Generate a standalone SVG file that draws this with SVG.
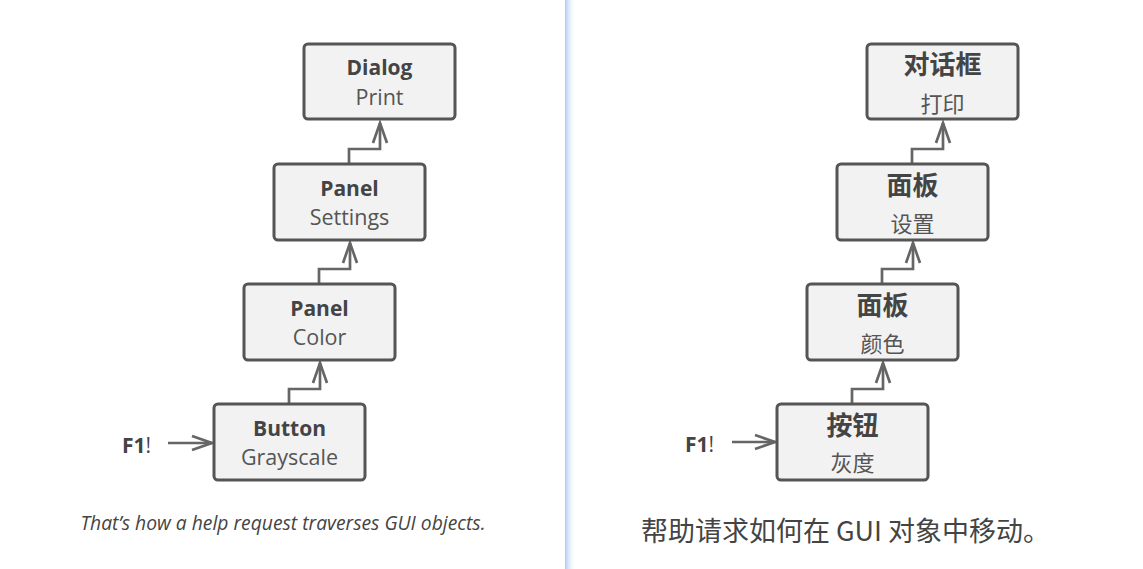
<svg xmlns="http://www.w3.org/2000/svg" width="1143" height="569" viewBox="0 0 1143 569">
<style>
.box{fill:#f2f2f2;stroke:#555;stroke-width:3}
.t{font-family:"Open Sans","Noto Sans",sans-serif;font-weight:bold;font-size:21px;fill:#444;text-anchor:middle}
.s{font-family:"Open Sans","Noto Sans",sans-serif;font-size:21.5px;fill:#555;text-anchor:middle}
.tc{font-family:"Noto Sans CJK SC",sans-serif;font-weight:bold;font-size:26px;fill:#444;text-anchor:middle}
.sc{font-family:"Noto Sans CJK SC",sans-serif;font-size:22px;fill:#555;text-anchor:middle}
.f1{font-family:"Open Sans","Noto Sans",sans-serif;font-size:21px;fill:#444}
.c{fill:none;stroke:#666;stroke-width:2.7;marker-end:url(#ah)}
</style>
<defs>
<marker id="ah" markerUnits="userSpaceOnUse" markerWidth="30" markerHeight="30" refX="0" refY="0" orient="auto" overflow="visible">
<polyline points="-20,-7 0,0 -20,7" fill="none" stroke="#666" stroke-width="2.7"/>
</marker>
<linearGradient id="div" x1="0" y1="0" x2="1" y2="0">
<stop offset="0" stop-color="#acccf4"/>
<stop offset="1" stop-color="#ffffff" stop-opacity="0"/>
</linearGradient>
</defs>
<rect width="1143" height="569" fill="#fff"/>
<rect x="565" y="0" width="11" height="569" fill="url(#div)"/>

<g id="connectors">
<path class="c" d="M289 404 V389 H320 V363"/>
<path class="c" d="M319 284 V269 H350 V243"/>
<path class="c" d="M349 164 V149 H380 V123"/>
<path class="c" d="M168 443 H212"/>
<path class="c" d="M852 404 V389 H883 V363"/>
<path class="c" d="M882 284 V269 H913 V243"/>
<path class="c" d="M912 164 V149 H943 V123"/>
<path class="c" d="M732 442 H775"/>
</g>

<g id="dialog">
<rect class="box" x="304" y="44" width="151" height="75" rx="4"/>
<text class="t" x="379.5" y="75">Dialog</text>
<text class="s" x="379.5" y="105">Print</text>
</g>
<g id="panel-settings">
<rect class="box" x="274" y="164" width="151" height="76" rx="4"/>
<text class="t" x="349.5" y="196">Panel</text>
<text class="s" x="349.5" y="225">Settings</text>
</g>
<g id="panel-color">
<rect class="box" x="244" y="284" width="151" height="76" rx="4"/>
<text class="t" x="319.5" y="316">Panel</text>
<text class="s" x="319.5" y="345">Color</text>
</g>
<g id="button">
<rect class="box" x="214" y="404" width="151" height="76" rx="4"/>
<text class="t" x="289.5" y="436">Button</text>
<text class="s" x="289.5" y="465">Grayscale</text>
</g>
<g id="f1-left">
<text class="f1" x="122" y="453"><tspan font-weight="bold">F1</tspan>!</text>
</g>

<g id="dialog-cn">
<rect class="box" x="867" y="44" width="151" height="75" rx="4"/>
<text class="tc" x="942.5" y="74">对话框</text>
<text class="sc" x="942.5" y="112">打印</text>
</g>
<g id="panel-settings-cn">
<rect class="box" x="837" y="164" width="151" height="76" rx="4"/>
<text class="tc" x="912.5" y="195">面板</text>
<text class="sc" x="912.5" y="232">设置</text>
</g>
<g id="panel-color-cn">
<rect class="box" x="807" y="284" width="151" height="76" rx="4"/>
<text class="tc" x="882.5" y="315">面板</text>
<text class="sc" x="882.5" y="352">颜色</text>
</g>
<g id="button-cn">
<rect class="box" x="777" y="404" width="151" height="76" rx="4"/>
<text class="tc" x="852.5" y="435">按钮</text>
<text class="sc" x="852.5" y="471">灰度</text>
</g>
<g id="f1-right">
<text class="f1" x="685" y="452"><tspan font-weight="bold">F1</tspan>!</text>
</g>

<text x="283" y="530" font-family="'Open Sans','Noto Sans',sans-serif" font-style="italic" font-size="19.3" fill="#444" text-anchor="middle">That’s how a help request traverses GUI objects.</text>
<text x="845.5" y="541" font-family="'Noto Sans CJK SC',sans-serif" font-size="27" fill="#444" text-anchor="middle">帮助请求如何在 GUI 对象中移动。</text>
</svg>
